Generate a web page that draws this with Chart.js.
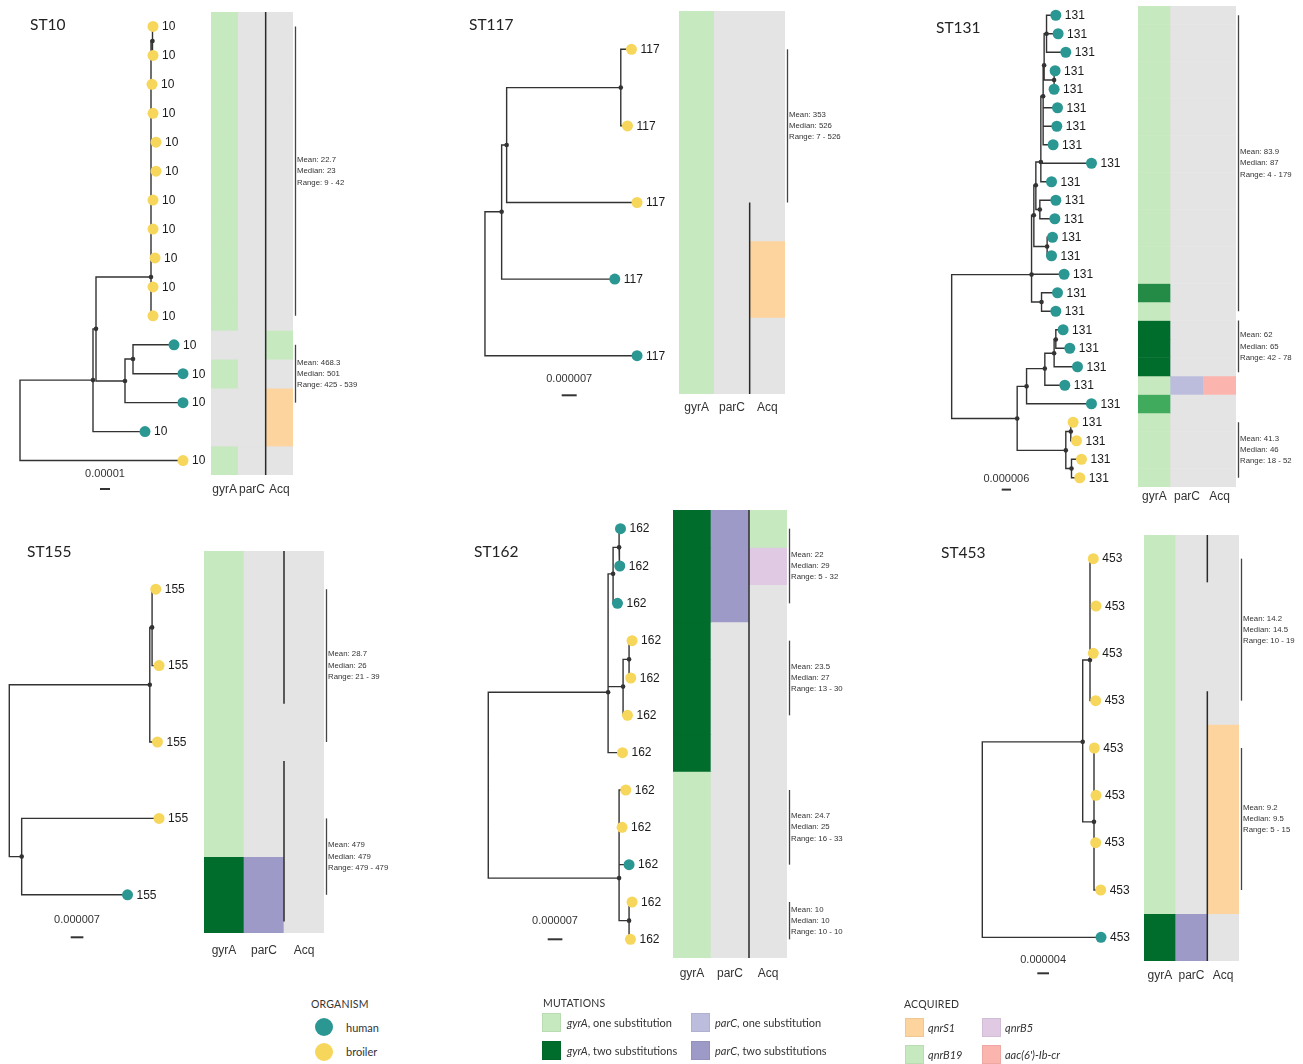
<!DOCTYPE html>
<html>
<head>
<meta charset="utf-8">
<script src="https://cdn.jsdelivr.net/npm/chart.js@4.4.1/dist/chart.umd.min.js"></script>
<style>
  body { margin: 0; background: #fff; }
  #fig { position: relative; width: 1303px; height: 1064px; overflow: hidden; font-family: Lato, "Open Sans", sans-serif; color: #333; }
  #fig canvas { position: absolute; }
  .title { position: absolute; font-size: 15.5px; line-height: 20px; color: #222; white-space: nowrap; }
  .lg { position: absolute; font-size: 11px; line-height: 14px; white-space: nowrap; color: #333; }
  .head { font-size: 10.5px; letter-spacing: 0.2px; }
  .sw { position: absolute; width: 19px; height: 19px; box-sizing: border-box; border: 1px solid rgba(0,0,0,0.06); }
  .dot { position: absolute; width: 18px; height: 18px; border-radius: 50%; }
</style>
</head>
<body>
<div id="fig"></div>
<script>
// Cell codes: '-' none, g1 gyrA one subst., g2 gyrA two subst. (g2m / g2l lighter shades),
// p1 / p2 parC one / two subst., S1 qnrS1, B5 qnrB5, B19 qnrB19, aac aac(6')-Ib-cr
// Tree: tip distance from root (plot units, scale bar gives the length), node x / y (y in tip rows)

// ---- ST10 ----
const st10TipX = [133, 133, 132, 133, 136, 136, 133, 133, 135, 133, 133, 154, 163, 163, 125, 163];
const st10TipHost = ['B','B','B','B','B','B','B','B','B','B','B','H','H','H','H','B'];
const st10TipParent = [6, 6, 3, 3, 3, 3, 3, 3, 3, 3, 3, 5, 5, 4, 1, 0];
const st10NodeX = [0, 73, 76, 131, 105, 113, 132.5];
const st10NodeY = [13.61, 12.22, 10.45, 8.66, 12.25, 11.49, 0.5];
const st10NodeParent = [-1, 0, 1, 2, 2, 4, 3];
const st10GyrA = ['g1','g1','g1','g1','g1','g1','g1','g1','g1','g1','g1','-','g1','-','-','g1'];
const st10ParC = ['-','-','-','-','-','-','-','-','-','-','-','-','-','-','-','-'];
const st10Acq  = ['-','-','-','-','-','-','-','-','-','-','-','B19','-','S1','S1','-'];
const st10Clade = [[-0.5, 15.5]];
const st10StatRows = [[0, 10], [11, 13]];
const st10StatText = [['Mean: 22.7', 'Median: 23', 'Range: 9 - 42'], ['Mean: 468.3', 'Median: 501', 'Range: 425 - 539']];
const st10Scale = ['0.00001', 10];

// ---- ST117 ----
const st117TipX = [146.7, 142.7, 152.3, 130, 152.3];
const st117TipHost = ['B','B','B','H','H'];
const st117TipParent = [3, 3, 2, 1, 0];
const st117NodeX = [0, 16.7, 21.7, 136];
const st117NodeY = [3.05, 2.12, 1.25, 0.5];
const st117NodeParent = [-1, 0, 1, 2];
const st117GyrA = ['g1','g1','g1','g1','g1'];
const st117ParC = ['-','-','-','-','-'];
const st117Acq  = ['-','-','-','S1','-'];
const st117Clade = [[2, 4.5]];
const st117StatRows = [[0, 2]];
const st117StatText = [['Mean: 353', 'Median: 526', 'Range: 7 - 526']];
const st117Scale = ['0.000007', 15];

// ---- ST131 ----
const st131TipX = [104.3, 106.6, 114.3, 103.6, 102.6, 106, 105.3, 101.6, 140, 100, 104.3, 103.3, 101,
                   100, 112.6, 106, 104.3, 111.6, 118.3, 126, 113.3, 140, 121.6, 125, 130, 128.3];
const st131TipHost = ['H','H','H','H','H','H','H','H','H','H','H','H','H','H','H','H','H','H','H','H','H','H','B','B','B','B'];
const st131TipParent = [18, 18, 18, 19, 19, 16, 16, 16, 15, 15, 14, 14, 12, 12, 1, 10, 10, 9, 9, 8, 7, 3, 5, 5, 6, 6];
const st131NodeX = [0, 80, 65.6, 75, 114.3, 119.3, 120, 93.3, 102.6, 104.3, 90, 82.3, 95.6, 84.3, 88.3, 89.3, 91.6, 92.6, 95, 102.6];
const st131NodeY = [17.91, 14.02, 21.8, 20.06, 23.52, 22.5, 24.5, 19.1, 18.27, 17.53, 15.5, 10.81, 12.5, 9.19, 10.5, 7.93, 4.38, 2.7, 1, 3.5];
const st131NodeParent = [-1, 0, 0, 2, 2, 4, 4, 3, 7, 8, 1, 1, 11, 11, 13, 13, 15, 16, 17, 17];
const st131GyrA = ['g1','g1','g1','g1','g1','g1','g1','g1','g1','g1','g1','g1','g1','g1','g1','g2m','g1','g2','g2','g2','g1','g2l','g1','g1','g1','g1'];
const st131ParC = ['-','-','-','-','-','-','-','-','-','-','-','-','-','-','-','-','-','-','-','-','p1','-','-','-','-','-'];
const st131Acq  = ['-','-','-','-','-','-','-','-','-','-','-','-','-','-','-','-','-','-','-','-','aac','-','-','-','-','-'];
const st131Clade = [];
const st131StatRows = [[0, 16], [16.5, 19.3], [22, 25]];
const st131StatText = [['Mean: 83.9', 'Median: 87', 'Range: 4 - 179'], ['Mean: 62', 'Median: 65', 'Range: 42 - 78'], ['Mean: 41.3', 'Median: 46', 'Range: 18 - 52']];
const st131Scale = ['0.000006', 9.3];

// ---- ST155 ----
const st155TipX = [146.7, 150, 148.4, 150, 118.4];
const st155TipHost = ['B','B','B','B','H'];
const st155TipParent = [3, 3, 1, 2, 2];
const st155NodeX = [0, 140.7, 12.4, 143];
const st155NodeY = [2.38, 1.25, 3.5, 0.5];
const st155NodeParent = [-1, 0, 0, 1];
const st155GyrA = ['g1','g1','g1','g1','g2'];
const st155ParC = ['-','-','-','-','p2'];
const st155Acq  = ['-','-','-','-','-'];
const st155Clade = [[-0.5, 1.5], [2.25, 4.35]];
const st155StatRows = [[0, 2], [3, 4]];
const st155StatText = [['Mean: 28.7', 'Median: 26', 'Range: 21 - 39'], ['Mean: 479', 'Median: 479', 'Range: 479 - 479']];
const st155Scale = ['0.000007', 12.7];

// ---- ST162 ----
const st162TipX = [132.4, 131.7, 129.4, 144, 142.7, 139.4, 134.4, 137.7, 134, 141, 144, 142.4];
const st162TipHost = ['H','H','H','B','B','B','B','B','B','H','B','B'];
const st162TipParent = [4, 4, 3, 6, 6, 5, 1, 2, 2, 2, 7, 7];
const st162NodeX = [0, 120, 131, 125, 131, 135, 141, 141];
const st162NodeY = [6.87, 4.38, 9.36, 1.21, 0.5, 4.23, 3.5, 10.5];
const st162NodeParent = [-1, 0, 0, 1, 3, 1, 5, 2];
const st162GyrA = ['g2','g2','g2','g2','g2','g2','g2','g1','g1','g1','g1','g1'];
const st162ParC = ['p2','p2','p2','-','-','-','-','-','-','-','-','-'];
const st162Acq  = ['B19','B5','-','-','-','-','-','-','-','-','-','-'];
const st162Clade = [[-0.5, 11.5]];
const st162StatRows = [[0, 2], [3, 5], [7, 9], [10, 11]];
const st162StatText = [['Mean: 22', 'Median: 29', 'Range: 5 - 32'], ['Mean: 23.5', 'Median: 27', 'Range: 13 - 30'],
                       ['Mean: 24.7', 'Median: 25', 'Range: 16 - 33'], ['Mean: 10', 'Median: 10', 'Range: 10 - 10']];
const st162Scale = ['0.000007', 14.7];

// ---- ST453 ----
const st453TipX = [111, 113.7, 111, 113.4, 112, 113.7, 113.4, 118.4, 118.7];
const st453TipHost = ['B','B','B','B','B','B','B','B','H'];
const st453TipParent = [2, 2, 2, 2, 3, 3, 3, 3, 0];
const st453NodeX = [0, 100.4, 107.7, 111.7];
const st453NodeY = [5.98, 3.87, 2.14, 5.56];
const st453NodeParent = [-1, 0, 1, 1];
const st453GyrA = ['g1','g1','g1','g1','g1','g1','g1','g1','g2'];
const st453ParC = ['-','-','-','-','-','-','-','-','p2'];
const st453Acq  = ['-','-','-','-','S1','S1','S1','S1','-'];
const st453Clade = [[-0.5, 0.5], [2.8, 8.5]];
const st453StatRows = [[0, 3], [4, 7]];
const st453StatText = [['Mean: 14.2', 'Median: 14.5', 'Range: 10 - 19'], ['Mean: 9.2', 'Median: 9.5', 'Range: 5 - 15']];
const st453Scale = ['0.000004', 11.7];

const columnNames = ['gyrA', 'parC', 'Acq'];

// Colours
const cellColours = {
  '-': '#e4e4e4', g1: '#c7e9c0', g2: '#006d2c', g2m: '#238b45', g2l: '#41ab5d',
  p1: '#bcbddc', p2: '#9e9ac8', S1: '#fdd49e', B5: '#dfc9e3', B19: '#c7e9c0', aac: '#fbb4ae'
};
const hostColours = { H: '#2b9793', B: '#f7d65c' };

// Panel placement on the page (pixels): heat = [left, top, width, height]
const panels = [
  { name: 'ST10', label: '10', tree: 0, root: 20, heat: [211, 12, 82, 463], bar: [100, 489, 474], pad: 15, title: [30, 24],
    tipX: st10TipX, host: st10TipHost, tipParent: st10TipParent, nodeX: st10NodeX, nodeY: st10NodeY, nodeParent: st10NodeParent,
    cols: [st10GyrA, st10ParC, st10Acq], clade: st10Clade, statRows: st10StatRows, statText: st10StatText, scale: st10Scale },
  { name: 'ST117', label: '117', tree: 460, root: 485, heat: [679.3, 10.7, 106.4, 383.3], bar: [561.7, 395, 379], pad: 14, title: [469, 24],
    tipX: st117TipX, host: st117TipHost, tipParent: st117TipParent, nodeX: st117NodeX, nodeY: st117NodeY, nodeParent: st117NodeParent,
    cols: [st117GyrA, st117ParC, st117Acq], clade: st117Clade, statRows: st117StatRows, statText: st117StatText, scale: st117Scale },
  { name: 'ST131', label: '131', tree: 930, root: 951.7, heat: [1138.3, 5.7, 98.4, 481], bar: [1001.7, 489.3, 478.3], pad: 10, title: [936, 27],
    tipX: st131TipX, host: st131TipHost, tipParent: st131TipParent, nodeX: st131NodeX, nodeY: st131NodeY, nodeParent: st131NodeParent,
    cols: [st131GyrA, st131ParC, st131Acq], clade: st131Clade, statRows: st131StatRows, statText: st131StatText, scale: st131Scale },
  { name: 'ST155', label: '155', tree: 0, root: 9.3, heat: [204.3, 551, 119.7, 382.3], bar: [70.7, 937.3, 920], pad: 17.4, title: [27, 551],
    tipX: st155TipX, host: st155TipHost, tipParent: st155TipParent, nodeX: st155NodeX, nodeY: st155NodeY, nodeParent: st155NodeParent,
    cols: [st155GyrA, st155ParC, st155Acq], clade: st155Clade, statRows: st155StatRows, statText: st155StatText, scale: st155Scale },
  { name: 'ST162', label: '162', tree: 470, root: 488.3, heat: [673.3, 510, 114, 448.3], bar: [547.7, 939.3, 920.7], pad: 16, title: [474, 550.7],
    tipX: st162TipX, host: st162TipHost, tipParent: st162TipParent, nodeX: st162NodeX, nodeY: st162NodeY, nodeParent: st162NodeParent,
    cols: [st162GyrA, st162ParC, st162Acq], clade: st162Clade, statRows: st162StatRows, statText: st162StatText, scale: st162Scale },
  { name: 'ST453', label: '453', tree: 930, root: 982.3, heat: [1144, 535, 95, 425.7], bar: [1037.3, 973.3, 960], pad: 14.3, title: [941, 552.3],
    tipX: st453TipX, host: st453TipHost, tipParent: st453TipParent, nodeX: st453NodeX, nodeY: st453NodeY, nodeParent: st453NodeParent,
    cols: [st453GyrA, st453ParC, st453Acq], clade: st453Clade, statRows: st453StatRows, statText: st453StatText, scale: st453Scale }
];

const fig = document.getElementById('fig');

function makeCanvas(left, top, width, height) {
  const cv = document.createElement('canvas');
  cv.width = Math.round(width);
  cv.height = Math.round(height);
  cv.style.left = left + 'px';
  cv.style.top = top + 'px';
  fig.appendChild(cv);
  return cv;
}

// Tip labels and scale bar of a tree
const treeText = {
  id: 'treeText',
  afterDatasetsDraw(chart, args, o) {
    const { ctx, scales: { x, y } } = chart;
    ctx.save();
    ctx.font = '12px "Liberation Sans", Arial, sans-serif';
    ctx.fillStyle = '#1a1a1a';
    ctx.textBaseline = 'middle';
    o.tipX.forEach((v, i) => ctx.fillText(o.label, x.getPixelForValue(v) + 9, y.getPixelForValue(i) + 0.5));
    const len = x.getPixelForValue(o.scale[1]) - x.getPixelForValue(0);
    ctx.strokeStyle = '#333';
    ctx.lineWidth = 2;
    ctx.beginPath();
    ctx.moveTo(o.barX, o.barY);
    ctx.lineTo(o.barX + len, o.barY);
    ctx.stroke();
    ctx.font = '11px "Liberation Sans", Arial, sans-serif';
    ctx.fillStyle = '#333';
    ctx.textAlign = 'center';
    ctx.fillText(o.scale[0], o.barX + len / 2, o.labelY);
    ctx.restore();
  }
};

// Column names, clade lines and statistics next to a heatmap
const heatExtra = {
  id: 'heatExtra',
  afterDatasetsDraw(chart, args, o) {
    const { ctx, chartArea: a, scales: { x, y } } = chart;
    const bx = (x.getPixelForValue(1) + x.getPixelForValue(2)) / 2;
    ctx.save();
    ctx.font = '12px "Liberation Sans", Arial, sans-serif';
    ctx.fillStyle = '#333';
    ctx.textAlign = 'center';
    ctx.textBaseline = 'middle';
    chart.data.labels.forEach((t, i) => ctx.fillText(t, x.getPixelForValue(i), a.bottom + o.pad));
    ctx.strokeStyle = '#2a2a2a';
    ctx.lineWidth = 1.5;
    o.clade.forEach(([r0, r1]) => {
      ctx.beginPath();
      ctx.moveTo(bx, y.getPixelForValue(r0 + 0.5));
      ctx.lineTo(bx, y.getPixelForValue(r1 + 0.5));
      ctx.stroke();
    });
    ctx.font = '7.8px "Liberation Sans", Arial, sans-serif';
    ctx.textAlign = 'left';
    o.rows.forEach(([r0, r1], k) => {
      const y0 = y.getPixelForValue(r0 + 0.5), y1 = y.getPixelForValue(r1 + 0.5);
      const sx = a.right + 2.5;
      ctx.strokeStyle = '#444';
      ctx.lineWidth = 1.3;
      ctx.beginPath();
      ctx.moveTo(sx, y0);
      ctx.lineTo(sx, y1);
      ctx.stroke();
      const mid = (y0 + y1) / 2;
      o.text[k].forEach((t, j) => ctx.fillText(t, sx + 1.5, mid + (j - 1) * 11.3));
    });
    ctx.restore();
  }
};

function drawTree(p) {
  const [hl, ht, hw, hh] = p.heat;
  const width = hl - p.tree, bottom = 40;
  const cv = makeCanvas(p.tree, ht, width, hh + bottom);
  const n = p.tipX.length;
  const xy = k => k < n ? [p.tipX[k], k] : [p.nodeX[k - n], p.nodeY[k - n]];

  // Elbow branches: vertical at the parent, then horizontal to the child
  const edges = [];
  const link = (par, child) => {
    const [px, py] = xy(n + par), [cx, cy] = xy(child);
    edges.push({ x: px, y: py }, { x: px, y: cy }, { x: cx, y: cy }, { x: cx, y: null });
  };
  p.tipParent.forEach((par, i) => link(par, i));
  p.nodeParent.forEach((par, j) => { if (par >= 0) link(par, n + j); });

  const inner = p.nodeX.map((v, j) => ({ x: v, y: p.nodeY[j] })).filter((d, j) => p.nodeParent[j] >= 0);
  const tips = p.tipX.map((v, i) => ({ x: v, y: i }));
  const xmin = p.tree - p.root;

  new Chart(cv, {
    type: 'scatter',
    data: {
      datasets: [
        { type: 'line', data: edges, borderColor: '#333', borderWidth: 1.4, pointRadius: 0, tension: 0, spanGaps: false, clip: false, order: 3 },
        { data: inner, pointRadius: 2.3, pointBackgroundColor: '#333', pointBorderWidth: 0, clip: false, order: 2 },
        { data: tips, pointRadius: 5.5, pointBackgroundColor: p.host.map(h => hostColours[h]), pointBorderWidth: 0, clip: false, order: 1 }
      ]
    },
    options: {
      responsive: false,
      animation: false,
      devicePixelRatio: 1,
      layout: { autoPadding: false, padding: { left: 0, right: 0, top: 0, bottom: bottom } },
      scales: {
        x: { type: 'linear', display: false, bounds: 'data', min: xmin, max: xmin + width },
        y: { type: 'linear', display: false, bounds: 'data', reverse: true, min: -0.5, max: n - 0.5 }
      },
      plugins: {
        legend: { display: false },
        tooltip: { enabled: false },
        treeText: {
          tipX: p.tipX, label: p.label, scale: p.scale,
          barX: p.bar[0] - p.tree, barY: p.bar[1] - ht, labelY: p.bar[2] - ht
        }
      }
    },
    plugins: [treeText]
  });
}

function drawHeat(p) {
  const [hl, ht, hw, hh] = p.heat;
  const side = 80, below = 30;
  const cv = makeCanvas(hl, ht, hw + side, hh + below);
  const n = p.tipX.length;
  const datasets = p.cols[0].map((c, i) => ({
    data: [1, 1, 1],
    backgroundColor: p.cols.map(col => cellColours[col[i]]),
    borderWidth: 0,
    barPercentage: 1,
    categoryPercentage: 1,
    stack: 'cells'
  }));

  new Chart(cv, {
    type: 'bar',
    data: { labels: columnNames, datasets: datasets },
    options: {
      responsive: false,
      animation: false,
      devicePixelRatio: 1,
      layout: { autoPadding: false, padding: { left: 0, right: side, top: 0, bottom: below } },
      scales: {
        x: { stacked: true, display: false, ticks: { autoSkip: false } },
        y: { stacked: true, display: false, reverse: true, min: 0, max: n }
      },
      plugins: {
        legend: { display: false },
        tooltip: { enabled: false },
        heatExtra: { clade: p.clade, rows: p.statRows, text: p.statText, pad: p.pad }
      }
    },
    plugins: [heatExtra]
  });
}

function addText(cls, html, left, cy) {
  const d = document.createElement('div');
  d.className = cls;
  d.innerHTML = html;
  d.style.left = left + 'px';
  d.style.top = (cy - 7) + 'px';
  fig.appendChild(d);
}

function addBox(cls, left, top, colour) {
  const d = document.createElement('div');
  d.className = cls;
  d.style.left = left + 'px';
  d.style.top = top + 'px';
  d.style.background = colour;
  fig.appendChild(d);
}

panels.forEach(p => {
  drawTree(p);
  drawHeat(p);
  const t = document.createElement('div');
  t.className = 'title';
  t.textContent = p.name;
  t.style.left = p.title[0] + 'px';
  t.style.top = (p.title[1] - 10) + 'px';
  fig.appendChild(t);
});

// Legend
addText('lg head', 'ORGANISM', 311, 1004);
addBox('dot', 315, 1018, hostColours.H);
addText('lg', 'human', 346, 1028);
addBox('dot', 315, 1043, hostColours.B);
addText('lg', 'broiler', 346, 1052);

addText('lg head', 'MUTATIONS', 543, 1003);
addBox('sw', 542, 1013, cellColours.g1);
addText('lg', '<i>gyrA</i>, one substitution', 567, 1023);
addBox('sw', 691, 1013, cellColours.p1);
addText('lg', '<i>parC</i>, one substitution', 715, 1023);
addBox('sw', 542, 1041, cellColours.g2);
addText('lg', '<i>gyrA</i>, two substitutions', 567, 1051);
addBox('sw', 691, 1041, cellColours.p2);
addText('lg', '<i>parC</i>, two substitutions', 715, 1051);

addText('lg head', 'ACQUIRED', 904, 1004);
addBox('sw', 905, 1018, cellColours.S1);
addText('lg', '<i>qnrS1</i>', 928, 1028);
addBox('sw', 982, 1018, cellColours.B5);
addText('lg', '<i>qnrB5</i>', 1005, 1028);
addBox('sw', 905, 1045, cellColours.B19);
addText('lg', '<i>qnrB19</i>', 928, 1055);
addBox('sw', 982, 1045, cellColours.aac);
addText('lg', "<i>aac(6')-Ib-cr</i>", 1005, 1055);
</script>
</body>
</html>
